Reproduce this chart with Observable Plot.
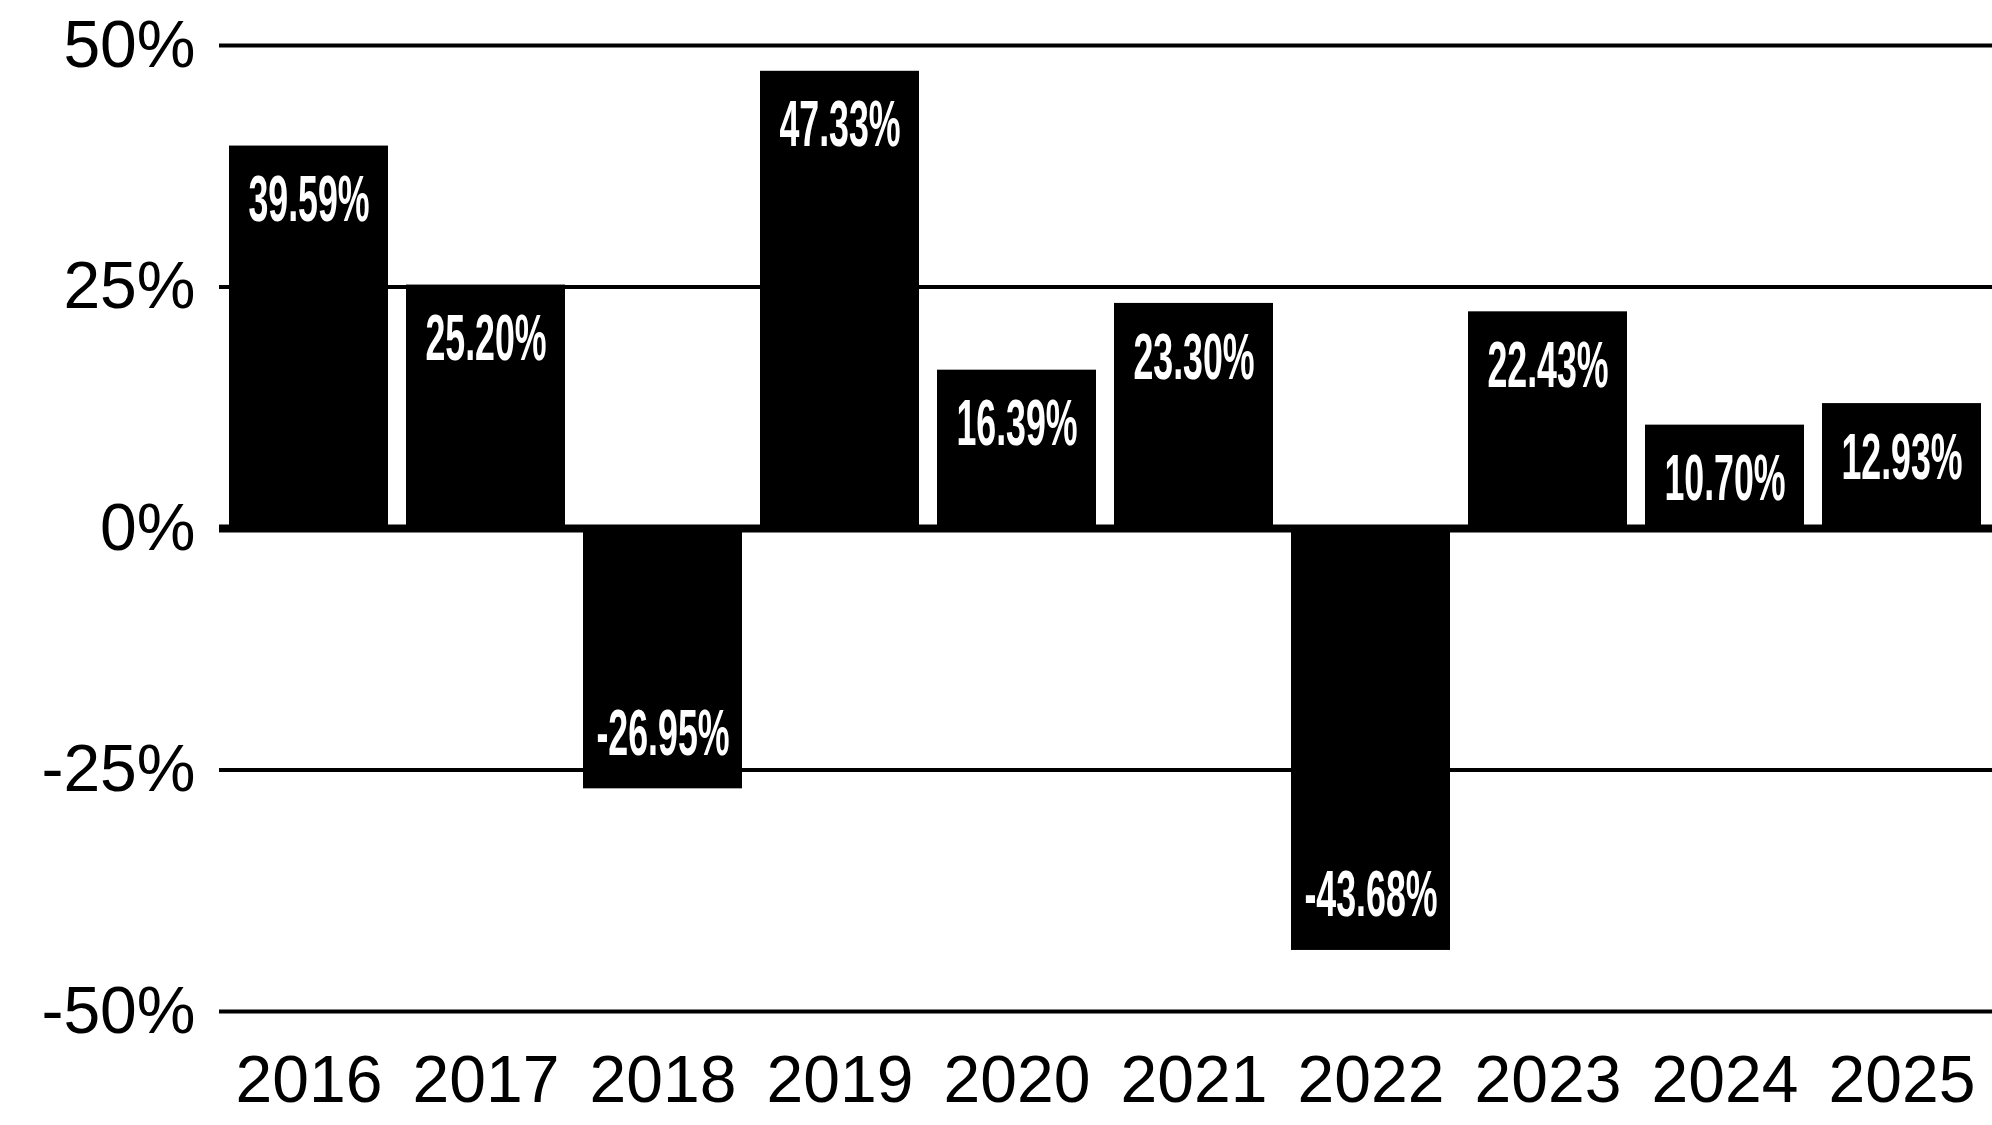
<!DOCTYPE html>
<html>
<head>
<meta charset="utf-8">
<script src="https://cdn.jsdelivr.net/npm/d3@7"></script>
<script src="https://cdn.jsdelivr.net/npm/@observablehq/plot@0.6"></script>
<style>
  html, body { margin: 0; padding: 0; background: #fff; overflow: hidden; }
  #chart svg { display: block; }
  g[aria-label^="x-axis"] text { font-size: 66px; }
  g[aria-label^="y-axis"] text { font-size: 66px; }
</style>
</head>
<body>
<div id="chart"></div>
<script>
const years = ["2016", "2017", "2018", "2019", "2020", "2021", "2022", "2023", "2024", "2025"];
const returns = [39.59, 25.20, -26.95, 47.33, 16.39, 23.30, -43.68, 22.43, 10.70, 12.93];
const yTicks = [-50, -25, 0, 25, 50];

const data = years.map((year, i) => ({ year, value: returns[i] }));
const fmt = d => d.value.toFixed(2) + "%";

const labelStyle = {
  x: "year",
  y: "value",
  text: fmt,
  fill: "#fff",
  fontSize: 65,
  fontWeight: "bold",
  textAnchor: "middle"
};

const chart = Plot.plot({
  width: 1992,
  height: 1125,
  marginLeft: 219,
  marginRight: 0,
  marginTop: 45,
  marginBottom: 114,
  style: {
    fontFamily: "'Liberation Sans', Arial, Helvetica, sans-serif",
    fontSize: "66px",
    background: "#fff",
    color: "#000"
  },
  x: {
    domain: years,
    paddingInner: 0.1,
    paddingOuter: 0.05,
    tickSize: 0,
    tickPadding: 44,
    label: null
  },
  y: {
    domain: [-50, 50],
    ticks: yTicks,
    tickFormat: d => `${d}%`,
    tickSize: 0,
    tickPadding: 24,
    label: null
  },
  marks: [
    Plot.ruleY(yTicks.filter(d => d !== 0), { stroke: "#000", strokeWidth: 4 }),
    Plot.barY(data, { x: "year", y: "value", fill: "#000" }),
    Plot.ruleY([0], { stroke: "#000", strokeWidth: 8 }),
    Plot.text(data.filter(d => d.value >= 0), { ...labelStyle, lineAnchor: "top", dy: 29 }),
    Plot.text(data.filter(d => d.value < 0), { ...labelStyle, lineAnchor: "bottom", dy: -34 })
  ]
});

document.getElementById("chart").appendChild(chart);

// condense the value labels horizontally
const sx = 0.55;
chart.querySelectorAll('g[aria-label="text"] text').forEach(t => {
  const tr = t.getAttribute("transform");
  if (tr) {
    t.setAttribute("transform", tr + ` scale(${sx},1)`);
  } else {
    const x = +t.getAttribute("x") || 0;
    const y = +t.getAttribute("y") || 0;
    t.removeAttribute("x");
    t.removeAttribute("y");
    t.setAttribute("transform", `translate(${x},${y}) scale(${sx},1)`);
  }
});
</script>
</body>
</html>
